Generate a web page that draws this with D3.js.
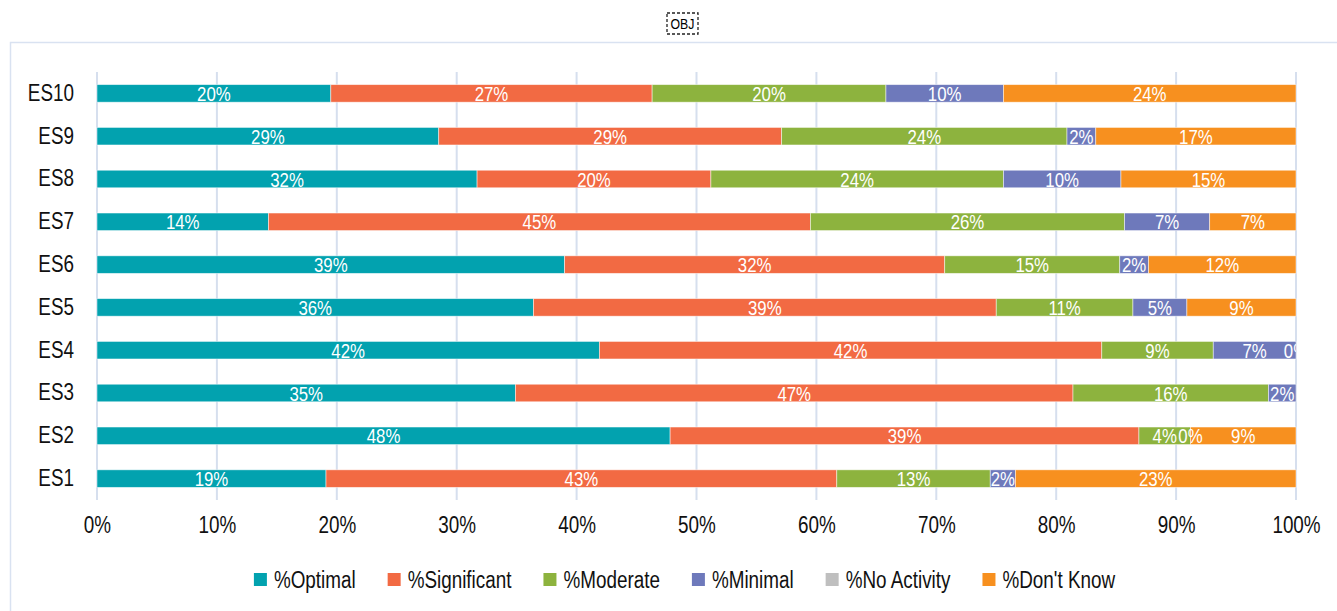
<!DOCTYPE html>
<html>
<head>
<meta charset="utf-8">
<script src="https://cdn.jsdelivr.net/npm/d3@7"></script>
<style>
  body { margin: 0; background: #fff; }
  svg text { font-family: "Liberation Sans", Arial, sans-serif; }
</style>
</head>
<body>
<div id="chart"></div>
<script>
// categories, bottom to top
var categories = ["ES1", "ES2", "ES3", "ES4", "ES5", "ES6", "ES7", "ES8", "ES9", "ES10"];

// series values (percent); null = no label / no segment
var optimal     = [19.1, 47.8, 34.9, 41.9, 36.4, 39.0, 14.3, 31.7, 28.5, 19.5];
var significant = [42.6, 39.1, 46.5, 41.9, 38.6, 31.7, 45.2, 19.5, 28.6, 26.8];
var moderate    = [12.8, 4.3, 16.3, 9.3, 11.4, 14.6, 26.2, 24.4, 23.8, 19.5];
var minimal     = [2.1, 0, 2.3, 6.9, 4.5, 2.4, 7.1, 9.8, 2.4, 9.8];
var noActivity  = [null, null, null, null, null, null, null, null, null, null];
var dontKnow    = [23.4, 8.8, null, 0, 9.1, 12.3, 7.2, 14.6, 16.7, 24.4];

var seriesNames = ["%Optimal", "%Significant", "%Moderate", "%Minimal", "%No Activity", "%Don't Know"];
var seriesColors = ["#02a2af", "#f26a43", "#8db33e", "#6e79bb", "#bfbfbf", "#f7901f"];
var seriesValues = [optimal, significant, moderate, minimal, noActivity, dontKnow];

var xTicks = [0, 10, 20, 30, 40, 50, 60, 70, 80, 90, 100];

var svgWidth = 1337;
var svgHeight = 611;

var margin = { top: 72, right: 41, bottom: 111, left: 97 };
var width = svgWidth - margin.left - margin.right;
var height = svgHeight - margin.top - margin.bottom;

// no narrow font installed: squeeze the glyphs like Arial Narrow
var squeeze = 0.82;
function narrow(sel) {
  sel.each(function() {
    var w = this.getComputedTextLength();
    d3.select(this)
      .attr("textLength", w * squeeze)
      .attr("lengthAdjust", "spacingAndGlyphs");
  });
}

var svg = d3.select("#chart")
  .append("svg")
  .attr("width", svgWidth)
  .attr("height", svgHeight);

// embedded object marker at the top
svg.append("rect")
  .attr("x", 667).attr("y", 13)
  .attr("width", 31).attr("height", 21)
  .attr("fill", "none")
  .attr("stroke", "#222")
  .attr("stroke-width", 1.3)
  .attr("stroke-dasharray", "3,2");
svg.append("text")
  .attr("x", 682.5).attr("y", 29)
  .attr("text-anchor", "middle")
  .style("font-size", "15px")
  .attr("fill", "#000")
  .text("OBJ")
  .call(narrow);

// chart frame (continues past the window)
svg.append("rect")
  .attr("x", 10.5).attr("y", 42.5)
  .attr("width", 1400).attr("height", 700)
  .attr("fill", "none")
  .attr("stroke", "#d9e2f1")
  .attr("stroke-width", 1.5);

var chartGroup = svg.append("g")
  .attr("transform", `translate(${margin.left}, ${margin.top})`);

// scales
var xScale = d3.scaleLinear().domain([0, 100]).range([0, width]);
var yScale = d3.scaleBand()
  .domain(categories.slice().reverse())
  .range([0, height])
  .paddingInner(0.59)
  .paddingOuter(0.295);

// gridlines
chartGroup.append("g")
  .selectAll("line")
  .data(xTicks)
  .enter()
  .append("line")
  .attr("x1", d => xScale(d))
  .attr("x2", d => xScale(d))
  .attr("y1", 0)
  .attr("y2", height)
  .attr("stroke", "#d6dfee")
  .attr("stroke-width", 2);

// stack data
var table = categories.map(function(c, i) {
  var row = { cat: c };
  seriesNames.forEach(function(s, j) { row[s] = seriesValues[j][i] == null ? 0 : seriesValues[j][i]; });
  return row;
});
var stacked = d3.stack().keys(seriesNames)(table);

var layers = chartGroup.selectAll(".layer")
  .data(stacked)
  .enter()
  .append("g")
  .attr("class", "layer")
  .attr("fill", (d, i) => seriesColors[i]);

layers.selectAll("rect")
  .data(d => d.filter((p, i) => seriesValues[stacked.indexOf(d)][i] != null && p[1] > p[0]))
  .enter()
  .append("rect")
  .attr("x", d => xScale(d[0]))
  .attr("y", d => yScale(d.data.cat))
  .attr("width", d => xScale(Math.min(d[1], 100)) - xScale(d[0]))
  .attr("height", yScale.bandwidth())
  .attr("stroke", "rgba(255,255,255,0.6)")
  .attr("stroke-width", 0.8);

// data labels
chartGroup.append("clipPath")
  .attr("id", "plotClip")
  .append("rect")
  .attr("x", -2).attr("y", -10)
  .attr("width", width + 2).attr("height", height + 20);

var labels = [];
stacked.forEach(function(layer, j) {
  layer.forEach(function(p, i) {
    if (seriesValues[j][i] != null) {
      labels.push({ cat: p.data.cat, mid: (p[0] + p[1]) / 2, v: seriesValues[j][i] });
    }
  });
});

chartGroup.append("g")
  .attr("clip-path", "url(#plotClip)")
  .selectAll("text")
  .data(labels)
  .enter()
  .append("text")
  .attr("x", d => xScale(d.mid))
  .attr("y", d => yScale(d.cat) + yScale.bandwidth() / 2)
  .attr("dy", "0.37em")
  .attr("text-anchor", "middle")
  .attr("fill", "#fff")
  .style("font-size", "20.5px")
  .text(d => Math.round(d.v) + "%")
  .call(narrow);

// axes
var bottomAxis = d3.axisBottom(xScale).tickValues(xTicks).tickFormat(d => d + "%").tickSize(0).tickPadding(17);
var leftAxis = d3.axisLeft(yScale).tickSize(0).tickPadding(23);

var xAxisG = chartGroup.append("g")
  .attr("transform", `translate(0, ${height})`)
  .call(bottomAxis);
var yAxisG = chartGroup.append("g").call(leftAxis);

[xAxisG, yAxisG].forEach(function(g) {
  g.select(".domain").remove();
  g.selectAll("text")
    .style("font-size", "23px")
    .attr("fill", "#111")
    .call(narrow);
});

// legend
var legendY = 580;
var legendGap = 32;
var legend = svg.append("g");
var items = legend.selectAll("g")
  .data(seriesNames)
  .enter()
  .append("g");
items.append("rect")
  .attr("width", 13).attr("height", 13)
  .attr("y", legendY - 7)
  .attr("fill", (d, i) => seriesColors[i]);
items.append("text")
  .attr("x", 20)
  .attr("y", legendY)
  .attr("dy", "0.36em")
  .style("font-size", "23px")
  .attr("fill", "#111")
  .text(d => d)
  .call(narrow);

var offset = 0;
items.each(function() {
  var g = d3.select(this);
  g.attr("transform", `translate(${offset}, 0)`);
  offset += 20 + (+g.select("text").attr("textLength")) + legendGap;
});
offset -= legendGap;
legend.attr("transform", `translate(${(257 + 1112) / 2 - offset / 2}, 0)`);
</script>
</body>
</html>
